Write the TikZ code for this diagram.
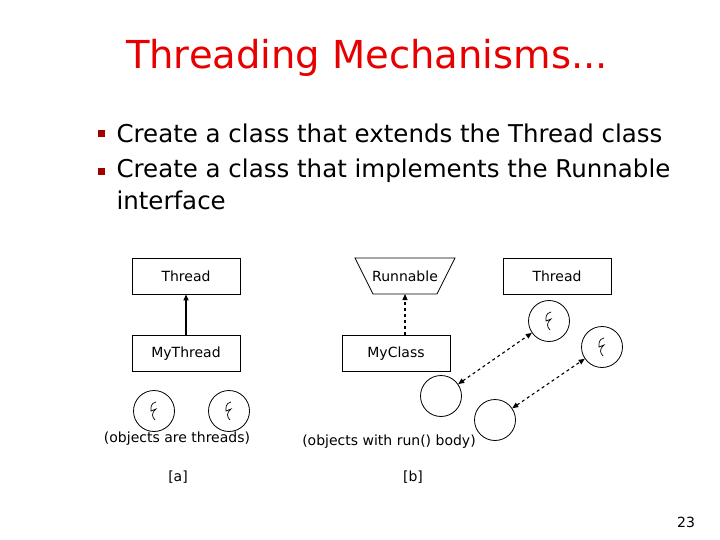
\documentclass[tikz,border=0pt]{standalone}
\usepackage{fontspec}
\setmainfont{DejaVu Sans}
\usetikzlibrary{arrows.meta}
\definecolor{titlered}{RGB}{230,0,0}
\definecolor{bul}{RGB}{160,0,0}
\begin{document}
\begin{tikzpicture}[x=1pt,y=-1pt,
  box/.style={draw,line width=0.8pt,minimum width=108pt,minimum height=36pt,inner sep=0pt,font=\fontsize{14}{15}\selectfont},
  circ/.style={draw,line width=0.8pt,circle,minimum size=41pt,inner sep=0pt},
  lbl/.style={font=\fontsize{14}{15}\selectfont},
  btxt/.style={anchor=west,font=\fontsize{24.5}{26}\selectfont},
  bsq/.style={fill=bul,minimum size=7pt,inner sep=0pt}]
\useasboundingbox (0,0) rectangle (720,540);
\node[text=titlered,font=\fontsize{38.5}{40}\selectfont] (title) at (367,58) {Threading Mechanisms...};
\node[bsq] (b1) at (101,134) {};
\node[bsq] (b2) at (101,172) {};
\node[btxt] (t1) at (113,133) {Create a class that extends the Thread class};
\node[btxt] (t2) at (113,171) {Create a class that implements the Runnable};
\node[btxt] (t3) at (113,200) {interface};
\node[box] (th1) at (186,276) {Thread};
\node[box] (mt) at (186,353.5) {MyThread};
\draw[line width=1.3pt,-{Triangle[length=6pt,width=5pt]}] (mt) -- (th1);
\draw[line width=0.8pt] (355,258) -- (455,258) -- (437,294) -- (373,294) -- cycle;
\node[lbl] (run) at (405,276) {Runnable};
\coordinate (runb) at (405,294);
\node[box] (mc) at (396,353.5) {MyClass};
\draw[line width=1.1pt,dashed,-{Triangle[length=6pt,width=5pt]}] (mt.north -| runb) -- (runb);
\node[box] (th2) at (557,276) {Thread};
\node[circ] (c1) at (154,411) {};
\node[circ] (c2) at (229,411) {};
\node[circ] (c3) at (549,321) {};
\node[circ] (c4) at (602,347) {};
\node[circ] (c5) at (441,396) {};
\node[circ] (c6) at (495,420) {};
\foreach \c in {c1,c2,c3,c4}{
  \draw[line width=0.7pt] ([shift={(2,-9)}]\c.center) .. controls ([shift={(-4,-8)}]\c.center) and ([shift={(-3,-2)}]\c.center) .. ([shift={(-3,0)}]\c.center) -- ([shift={(2,-2)}]\c.center) .. controls ([shift={(-3,2)}]\c.center) and ([shift={(-2,6)}]\c.center) .. ([shift={(1,9)}]\c.center);
}
\draw[line width=1.1pt,dashed,{Triangle[length=6pt,width=5pt]}-{Triangle[length=6pt,width=5pt]}] (c5) -- (c3);
\draw[line width=1.1pt,dashed,{Triangle[length=6pt,width=5pt]}-{Triangle[length=6pt,width=5pt]}] (c6) -- (c4);
\node[lbl] (l1) at (177,439) {(objects are threads)};
\node[lbl] (l2) at (389,442) {(objects with run() body)};
\node[lbl] (la) at (178,477) {[a]};
\node[lbl] (lb) at (413,477) {[b]};
\node[lbl] (pg) at (686,522) {23};
\end{tikzpicture}
\end{document}
